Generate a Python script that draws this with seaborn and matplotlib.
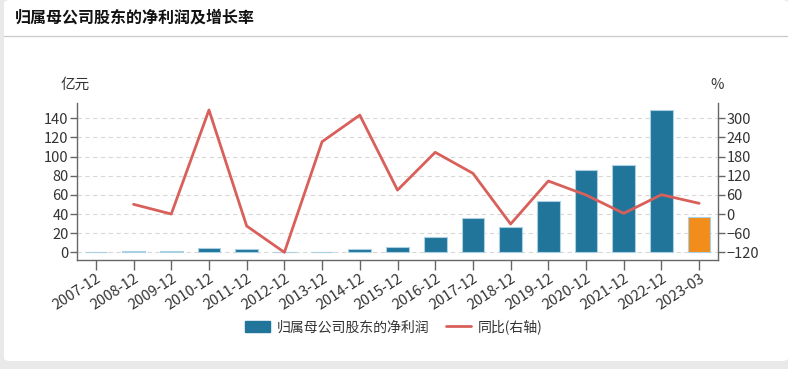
import numpy as np
import pandas as pd
import matplotlib
matplotlib.use("Agg")
import matplotlib.pyplot as plt
import seaborn as sns
from matplotlib.patches import Patch, FancyBboxPatch
from matplotlib.lines import Line2D

categories = ["2007-12", "2008-12", "2009-12", "2010-12", "2011-12", "2012-12",
              "2013-12", "2014-12", "2015-12", "2016-12", "2017-12", "2018-12",
              "2019-12", "2020-12", "2021-12", "2022-12", "2023-03"]
net_profit = [0.8, 1.0, 1.0, 4.8, 3.1, 0.4, 0.8, 3.0, 5.6, 16.0, 36.2, 26.1,
              53.6, 85.7, 91.2, 148.7, 36.6]
growth = [np.nan, 30.5, 0.0, 326.0, -37.5, -120.0, 226.8, 310.0, 75.0, 193.5,
          127.6, -31.3, 103.5, 59.7, 2.2, 60.6, 33.6]
left_ticks = [0, 20, 40, 60, 80, 100, 120, 140]
right_ticks = [-120, -60, 0, 60, 120, 180, 240, 300]

title = "归属母公司股东的净利润及增长率"
bar_label = "归属母公司股东的净利润"
line_label = "同比(右轴)"

sns.set_theme(style="white")
plt.rcParams["font.family"] = ["Noto Sans CJK SC", "DejaVu Sans"]

BLUE = "#21759b"
ORANGE = "#f28c1a"
RED = "#d9605a"
AX = "#666666"

fig = plt.figure(figsize=(7.88, 3.69), dpi=100)
fig.patch.set_facecolor("#e9e9e9")
card = FancyBboxPatch((4 / 788, 8 / 369), 784 / 788, 361 / 369,
                      boxstyle="round,pad=0,rounding_size=0.008",
                      transform=fig.transFigure, facecolor="white",
                      edgecolor="none", zorder=0)
fig.add_artist(card)
fig.add_artist(Line2D([4 / 788, 1], [1 - 36 / 369, 1 - 36 / 369],
                      transform=fig.transFigure, color="#cccccc", lw=1))
fig.text(15 / 788, 1 - 18 / 369, title, fontsize=11.5, fontweight="bold",
         va="center", ha="left", color="#111111")

ax = fig.add_axes([77 / 788, 1 - 260 / 369, 641 / 788, 157 / 369])
ax.set_facecolor("none")

df = pd.DataFrame({"cat": categories, "val": net_profit})
colors = [BLUE] * (len(categories) - 1) + [ORANGE]
sns.barplot(data=df, x="cat", y="val", hue="cat", palette=colors, legend=False,
            width=0.6, ax=ax, edgecolor="#a9d0e3", linewidth=0.8, saturation=1)
ax.set_xlim(-0.5, len(categories) - 0.5)
ax.set_ylim(-8, 156)
ax.set_yticks(left_ticks)
ax.set_xlabel("")
ax.set_ylabel("")
for y in left_ticks:
    ax.axhline(y, color="#d8d8d8", lw=0.8, ls=(0, (4, 3)), zorder=0)

ax2 = ax.twinx()
ax2.set_ylim(-144, 348)
ax2.set_yticks(right_ticks)
sns.lineplot(x=np.arange(1, len(categories)), y=growth[1:], ax=ax2,
             color=RED, lw=2, zorder=3)

for a in (ax, ax2):
    a.spines["top"].set_visible(False)
    for s in ("left", "right", "bottom"):
        a.spines[s].set_color(AX)
        a.spines[s].set_linewidth(1)
    a.tick_params(axis="both", colors=AX, labelcolor="#333333", labelsize=10.5,
                  length=5, width=1, direction="out")

ax.spines["right"].set_visible(False)
ax2.spines["left"].set_visible(False)
ax2.spines["bottom"].set_visible(False)
ax.tick_params(axis="y", left=True, pad=1)
ax2.tick_params(axis="y", right=True, pad=1)
ax.tick_params(axis="x", bottom=True, pad=1, length=7, labelsize=10.5)
ax.set_xticks(range(len(categories)))
ax.set_xticklabels(categories, rotation=33, ha="right", rotation_mode="anchor")

fig.text(75 / 788, 1 - 85 / 369, "亿元", fontsize=10.5, ha="center", va="center", color="#333333")
fig.text(717 / 788, 1 - 85 / 369, "%", fontsize=10.5, ha="center", va="center", color="#333333")

handles = [Patch(facecolor=BLUE, edgecolor=BLUE),
           Line2D([0], [0], color=RED, lw=2)]
fig.legend(handles, [bar_label, line_label], loc="center",
           bbox_to_anchor=(0.5, 1 - 327 / 369), ncol=2, frameon=False,
           fontsize=10, handlelength=1.8, handleheight=0.9, columnspacing=1.2,
           handletextpad=0.5, labelcolor="#333333")

fig.savefig("out.png", dpi=100, facecolor=fig.get_facecolor())
